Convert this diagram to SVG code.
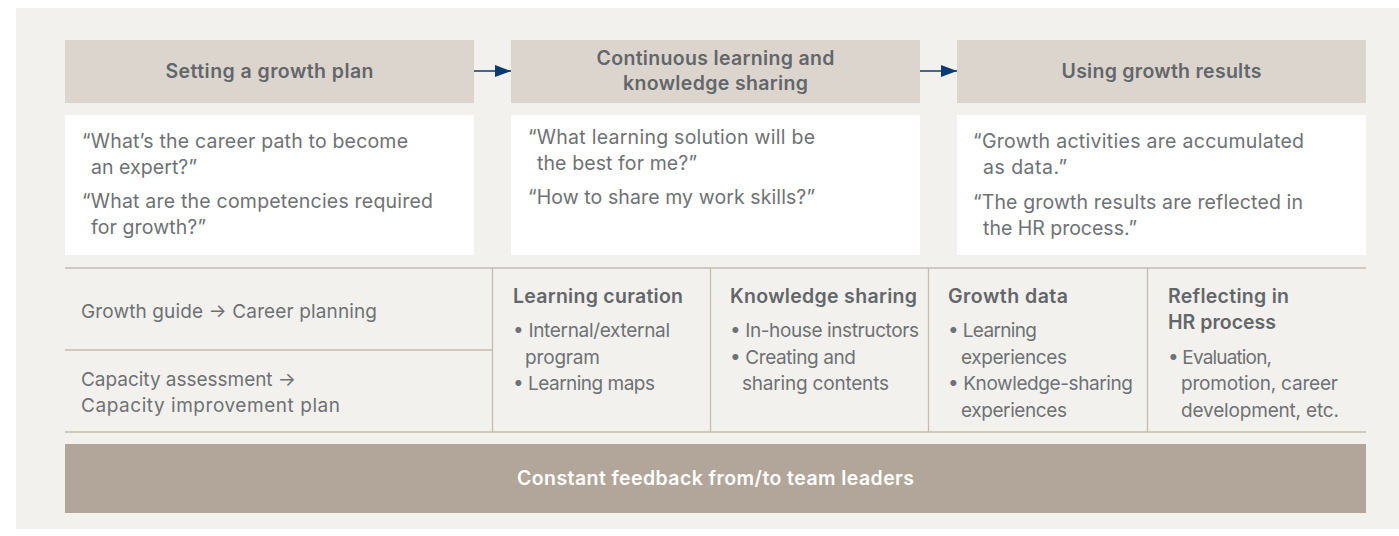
<svg xmlns="http://www.w3.org/2000/svg" width="1399" height="536" viewBox="0 0 1399 536">
<defs>
<style>
.hdr{fill:#dcd5ce}
.card{fill:#ffffff}
.ht{font-family:Inter,"Noto Sans",sans-serif;font-weight:600;font-size:19.5px;fill:#63666a;text-anchor:middle}
.q{font-family:Inter,"Noto Sans",sans-serif;font-size:19.5px;fill:#6e7175}
.t{font-family:Inter,"Noto Sans",sans-serif;font-size:19px;fill:#6e7175}
.tb{font-family:Inter,"Noto Sans",sans-serif;font-weight:600;font-size:19.5px;fill:#63666a}
.ln{stroke:#c5bbb0;stroke-width:1.3;fill:none}
.ft{font-family:Inter,"Noto Sans",sans-serif;font-weight:600;font-size:19.5px;fill:#ffffff;text-anchor:middle}
</style>
<marker id="ah" markerWidth="16" markerHeight="12" refX="16" refY="6" orient="auto" markerUnits="userSpaceOnUse">
<path d="M0,0 L16,6 L0,12 Z" fill="#0b3a73"/>
</marker>
</defs>
<rect x="0" y="0" width="1399" height="536" fill="#ffffff"/>
<rect x="16" y="8" width="1383" height="521" fill="#f3f1ed"/>

<g id="stage1">
<rect class="hdr" x="65" y="40" width="409" height="63"/>
<text class="ht" x="269.5" y="78" textLength="208">Setting a growth plan</text>
<rect class="card" x="65" y="115" width="409" height="140"/>
<text class="q" x="82" y="148" textLength="326">“What’s the career path to become</text>
<text class="q" x="91" y="174" textLength="106">an expert?”</text>
<text class="q" x="82" y="208" textLength="351">“What are the competencies required</text>
<text class="q" x="91" y="234" textLength="115">for growth?”</text>
</g>

<g id="stage2">
<rect class="hdr" x="511" y="40" width="409" height="63"/>
<text class="ht" x="715.5" y="65" textLength="238">Continuous learning and</text>
<text class="ht" x="715.5" y="90" textLength="185">knowledge sharing</text>
<rect class="card" x="511" y="115" width="409" height="140"/>
<text class="q" x="528" y="144" textLength="287">“What learning solution will be</text>
<text class="q" x="537" y="170" textLength="160">the best for me?”</text>
<text class="q" x="528" y="204" textLength="287">“How to share my work skills?”</text>
</g>

<g id="stage3">
<rect class="hdr" x="957" y="40" width="409" height="63"/>
<text class="ht" x="1161.5" y="78" textLength="200">Using growth results</text>
<rect class="card" x="957" y="115" width="409" height="140"/>
<text class="q" x="973" y="148" textLength="331">“Growth activities are accumulated</text>
<text class="q" x="983" y="174" textLength="84">as data.”</text>
<text class="q" x="973" y="209" textLength="330">“The growth results are reflected in</text>
<text class="q" x="983" y="235" textLength="154">the HR process.”</text>
</g>

<g id="connectors">
<line x1="474" y1="71" x2="511" y2="71" stroke="#0b3a73" stroke-width="1.5" marker-end="url(#ah)"/>
<line x1="920" y1="71" x2="957" y2="71" stroke="#0b3a73" stroke-width="1.5" marker-end="url(#ah)"/>
</g>

<g id="table">
<line class="ln" x1="65" y1="268" x2="1366" y2="268"/>
<line class="ln" x1="65" y1="350" x2="492.5" y2="350"/>
<line class="ln" x1="65" y1="432" x2="1366" y2="432"/>
<line class="ln" x1="492.5" y1="268" x2="492.5" y2="432"/>
<line class="ln" x1="710.5" y1="268" x2="710.5" y2="432"/>
<line class="ln" x1="928.5" y1="268" x2="928.5" y2="432"/>
<line class="ln" x1="1147.5" y1="268" x2="1147.5" y2="432"/>
</g>

<g id="plan-items">
<text class="t" x="81" y="318" textLength="296">Growth guide → Career planning</text>
<text class="t" x="81" y="386" textLength="215">Capacity assessment →</text>
<text class="t" x="81" y="412" textLength="259">Capacity improvement plan</text>
</g>

<g id="learning-curation">
<text class="tb" x="513" y="303" textLength="170">Learning curation</text>
<text class="t" x="513" y="337" textLength="157">• Internal/external</text>
<text class="t" x="525" y="363.5" textLength="75">program</text>
<text class="t" x="513" y="390" textLength="142">• Learning maps</text>
</g>

<g id="knowledge-sharing">
<text class="tb" x="730" y="303" textLength="187">Knowledge sharing</text>
<text class="t" x="730" y="337" textLength="189">• In-house instructors</text>
<text class="t" x="730" y="363.5" textLength="126">• Creating and</text>
<text class="t" x="742" y="390" textLength="147">sharing contents</text>
</g>

<g id="growth-data">
<text class="tb" x="948" y="303" textLength="120">Growth data</text>
<text class="t" x="948" y="337" textLength="89">• Learning</text>
<text class="t" x="961" y="363.5" textLength="106">experiences</text>
<text class="t" x="948" y="390" textLength="185">• Knowledge-sharing</text>
<text class="t" x="961" y="416.5" textLength="106">experiences</text>
</g>

<g id="hr-process">
<text class="tb" x="1168" y="303" textLength="121">Reflecting in</text>
<text class="tb" x="1168" y="328.5" textLength="108">HR process</text>
<text class="t" x="1168" y="364" textLength="104">• Evaluation,</text>
<text class="t" x="1181" y="390" textLength="157">promotion, career</text>
<text class="t" x="1181" y="416.5" textLength="158">development, etc.</text>
</g>

<g id="feedback">
<rect x="65" y="444" width="1301" height="69" fill="#b1a699"/>
<text class="ft" x="715.5" y="485" textLength="397">Constant feedback from/to team leaders</text>
</g>
</svg>
